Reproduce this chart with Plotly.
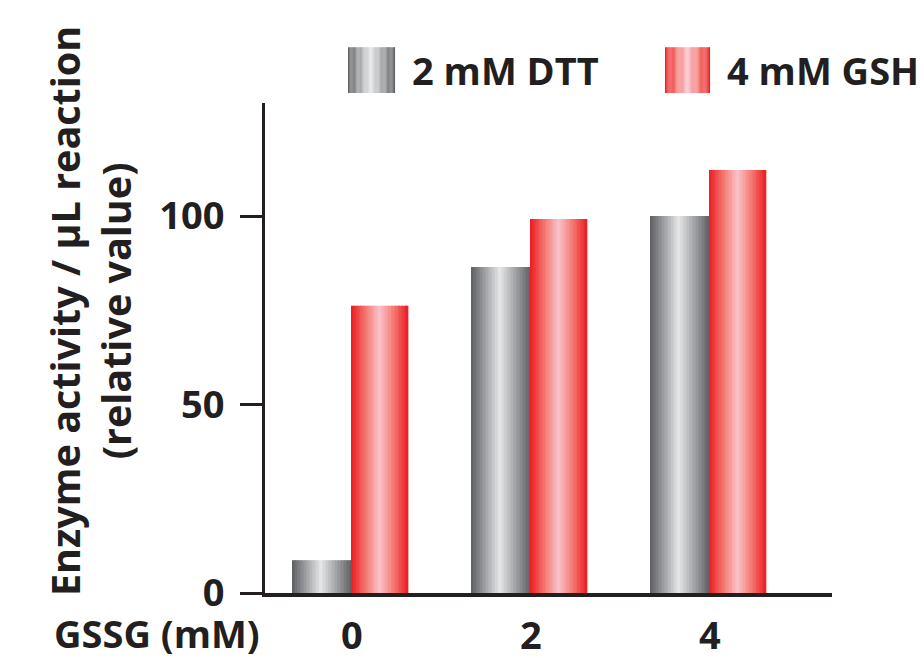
import plotly.graph_objects as go

# ---- data ----
categories = ["0", "2", "4"]          # GSSG (mM)
dtt_values = [8.7, 86.5, 100.0]       # 2 mM DTT
gsh_values = [76.2, 99.2, 112.2]      # 4 mM GSH
y_ticks = [0, 50, 100]
series_names = ["2 mM DTT", "4 mM GSH"]

# ---- style ----
FONT = "Open Sans"
TXT = "#231f20"
gray_stops = [(0.0, (0x5e, 0x5f, 0x63)), (0.48, (0xe6, 0xe7, 0xe8)), (1.0, (0x5e, 0x5f, 0x63))]
red_stops = [(0.0, (0xed, 0x1c, 0x24)), (0.25, (0xf3, 0x78, 0x70)), (0.5, (0xf9, 0xc3, 0xcb)),
             (0.75, (0xf3, 0x78, 0x70)), (1.0, (0xed, 0x1c, 0x24))]
N = 40


def grad(stops, t):
    for (t0, c0), (t1, c1) in zip(stops[:-1], stops[1:]):
        if t0 <= t <= t1:
            f = (t - t0) / (t1 - t0) if t1 > t0 else 0
            c = [round(a + (b - a) * f) for a, b in zip(c0, c1)]
            return "rgb(%d,%d,%d)" % tuple(c)
    return "rgb(%d,%d,%d)" % stops[-1][1]


x_pos = list(range(len(categories)))
fig = go.Figure()

series = [(dtt_values, gray_stops, -0.33, 0.33), (gsh_values, red_stops, 0.0, 0.315)]
for vals, stops, start, w in series:
    sw = w / N
    for k in range(N):
        t = (k + 0.5) / N
        fig.add_trace(go.Bar(
            x=x_pos, y=vals, offset=start + k * sw, width=sw * 1.08 if k < N - 1 else sw,
            marker=dict(color=grad(stops, t), line=dict(width=0)),
            showlegend=False, hoverinfo="skip"))

# legend (gradient swatches + labels)
shapes = []
legend_items = [(0.1464, 0.2293, gray_stops, series_names[0], 0.2557),
                (0.7055, 0.7848, red_stops, series_names[1], 0.8113)]
annotations = []
for x0, x1, stops, name, tx in legend_items:
    sw = (x1 - x0) / N
    for k in range(N):
        t = (k + 0.5) / N
        shapes.append(dict(type="rect", xref="paper", yref="paper",
                           x0=x0 + k * sw, x1=x0 + (k + 1.05) * sw, y0=1.0204, y1=1.114,
                           fillcolor=grad(stops, t), line=dict(width=0), layer="above"))
    annotations.append(dict(text=name, xref="paper", yref="paper", x=tx, y=1.0673,
                            xanchor="left", yanchor="middle", showarrow=False,
                            font=dict(family=FONT, size=38, color=TXT, weight="bold")))

# axis titles
annotations.append(dict(text="GSSG (mM)", xref="paper", yref="paper", x=-0.005, y=-0.0816,
                        xanchor="right", yanchor="middle", showarrow=False,
                        font=dict(family=FONT, size=38, color=TXT, weight="bold")))
annotations.append(dict(text="Enzyme activity / μL reaction<br>(relative value)",
                        xref="paper", yref="paper", x=-0.3086, y=0.5755, textangle=-90,
                        xanchor="center", yanchor="middle", showarrow=False,
                        font=dict(family=FONT, size=39.5, color=TXT, weight="bold")))

fig.update_layout(
    width=924, height=658,
    margin=dict(l=265, r=92, t=103, b=65),
    paper_bgcolor="white", plot_bgcolor="white",
    barmode="overlay",
    font=dict(family=FONT, size=38, color=TXT, weight="bold"),
    shapes=shapes, annotations=annotations,
    xaxis=dict(range=[-0.486, 2.682], tickvals=x_pos, ticktext=categories, automargin=False,
               showline=True, linewidth=4, linecolor=TXT, ticks="", showgrid=False,
               zeroline=False, ticklabelstandoff=6,
               tickfont=dict(family=FONT, size=38, color=TXT, weight="bold")),
    yaxis=dict(range=[0, 130], tickvals=y_ticks, showline=True, linewidth=3, linecolor=TXT,
               ticks="outside", ticklen=22, tickwidth=3, tickcolor=TXT, showgrid=False,
               zeroline=False, ticklabelstandoff=8, automargin=False,
               tickfont=dict(family=FONT, size=38, color=TXT, weight="bold")),
)

fig.write_html("out.html")
